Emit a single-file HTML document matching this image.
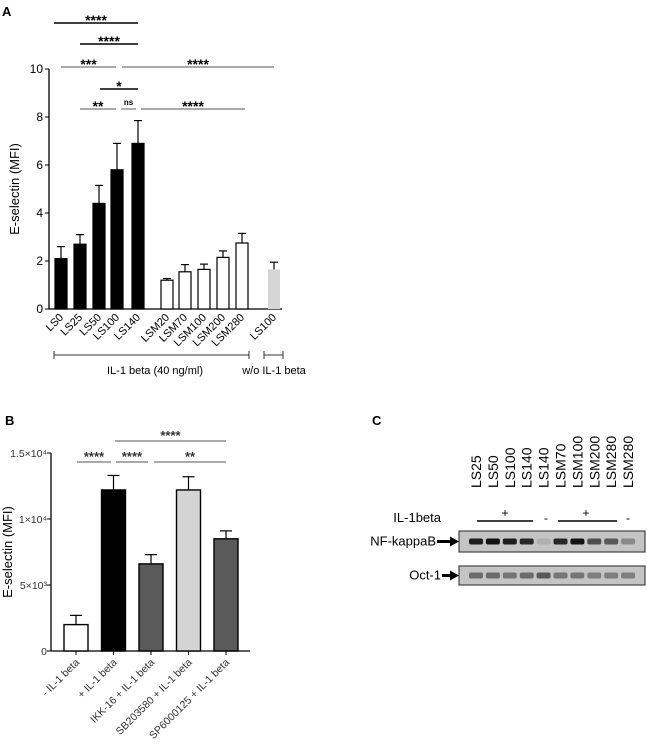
<!DOCTYPE html>
<html><head><meta charset="utf-8"><style>
body{margin:0;background:#fff;}
svg{display:block;font-family:"Liberation Sans",Arial,sans-serif;}
</style></head><body>
<svg id="fig" width="647" height="746" viewBox="0 0 647 746">
<text x="2" y="16" font-size="13" font-weight="bold">A</text>
<text x="5" y="425" font-size="13" font-weight="bold">B</text>
<text x="372" y="425" font-size="13" font-weight="bold">C</text>
<g id="chartA"></g>
<g id="chartB"></g>
<g id="blot"></g>
</svg>
<script>
const NS='http://www.w3.org/2000/svg';
// Panel A data
const catsA=['LS0','LS25','LS50','LS100','LS140','LSM20','LSM70','LSM100','LSM200','LSM280','LS100'];
const valsA=[2.1,2.7,4.4,5.8,6.9,1.2,1.55,1.65,2.15,2.75,1.65];
const errA=[0.5,0.4,0.75,1.1,0.95,0.07,0.3,0.22,0.27,0.4,0.3];
const fillA=['#000','#000','#000','#000','#000','#fff','#fff','#fff','#fff','#fff','#d6d6d6'];
const ticksA=[0,2,4,6,8,10];
// Panel B data
const catsB=['- IL-1 beta','+ IL-1 beta','IKK-16 + IL-1 beta','SB203580 + IL-1 beta','SP6000125 + IL-1 beta'];
const valsB=[2000,12200,6600,12200,8500];
const errB=[700,1100,700,1000,600];
const fillB=['#fff','#000','#5a5a5a','#d4d4d4','#5a5a5a'];
const ticksB=[0,5000,10000,15000];
const tickLabB=['0','5×10³','1×10⁴','1.5×10⁴'];
// Panel C
const lanesC=['LS25','LS50','LS100','LS140','LS140','LSM70','LSM100','LSM200','LSM280','LSM280'];
const nfkbC=[0.85,0.9,0.85,0.8,0.1,0.8,0.9,0.6,0.55,0.3];
const oct1C=[0.45,0.45,0.4,0.45,0.55,0.4,0.4,0.35,0.35,0.35];

function el(parent,tag,attrs,txt){const e=document.createElementNS(NS,tag);for(const k in attrs)e.setAttribute(k,attrs[k]);if(txt!==undefined)e.textContent=txt;parent.appendChild(e);return e;}

// ---- Panel A
const gA=document.getElementById('chartA');
const ax0=49,ay0=309,ayTop=69;
const yA=v=>ay0-(v/10)*(ay0-ayTop);
const xPosA=[61,80,99,117,138,167,185,204,223,242,274];
const xA=i=>xPosA[i];
let a=el(gA,'line',{x1:ax0,y1:ayTop,x2:ax0,y2:ay0,stroke:'#000','stroke-width':1.3});

a=el(gA,'line',{x1:ax0,y1:ay0,x2:282,y2:ay0,stroke:'#000','stroke-width':1.3});

ticksA.forEach(t=>{el(gA,'line',{x1:ax0-4,y1:yA(t),x2:ax0,y2:yA(t),stroke:'#000'});
 const tx=el(gA,'text',{x:ax0-6,y:yA(t)+4,'font-size':12,'text-anchor':'end'},t);
 });
let yl=el(gA,'text',{x:0,y:0,'font-size':13,'text-anchor':'middle',transform:'translate(19,189) rotate(-90)'},'E-selectin (MFI)');

catsA.forEach((c,i)=>{const w=12,x=xA(i);
 el(gA,'line',{x1:x,y1:yA(valsA[i]+errA[i]),x2:x,y2:yA(valsA[i]),stroke:'#000','stroke-width':1.2});
 el(gA,'line',{x1:x-4,y1:yA(valsA[i]+errA[i]),x2:x+4,y2:yA(valsA[i]+errA[i]),stroke:'#000','stroke-width':1.2});
 const b=el(gA,'rect',{x:x-w/2,y:yA(valsA[i]),width:w,height:ay0-yA(valsA[i]),fill:fillA[i],stroke:fillA[i]==='#d6d6d6'?'none':'#000','stroke-width':1.2});
 
 const t=el(gA,'text',{x:0,y:0,'font-size':11,'text-anchor':'end',transform:`translate(${x+3},${ay0+9}) rotate(-45)`},c);
 });
const sigA=[[54,138,23,'****',2],[80,138,44,'****',2],[61,116,67,'***',1],[122,274,67,'****',1],[100,138,89,'*',2],[80,116,109,'**',1],[121,136,109,'ns',1],[141,245,109,'****',1]];
sigA.forEach(s=>{const l=el(gA,'line',{x1:s[0],y1:s[2],x2:s[1],y2:s[2],stroke:s[4]==2?'#000':'#555','stroke-width':s[4]==2?1.4:0.9});
 
 el(gA,'text',{x:(s[0]+s[1])/2,y:s[2]+(s[3]==='ns'?-4:2),'font-size':s[3]==='ns'?8:14,'font-weight':'bold','text-anchor':'middle'},s[3]);});
[[54,249],[264,283]].forEach(r=>{el(gA,'line',{x1:r[0],y1:355,x2:r[1],y2:355,stroke:'#333'});
 el(gA,'line',{x1:r[0],y1:351,x2:r[0],y2:359,stroke:'#333'});el(gA,'line',{x1:r[1],y1:351,x2:r[1],y2:359,stroke:'#333'});});
let g1=el(gA,'text',{x:155,y:374,'font-size':11,'text-anchor':'middle'},'IL-1 beta (40 ng/ml)');

g1=el(gA,'text',{x:274,y:374,'font-size':11,'text-anchor':'middle'},'w/o IL-1 beta');


// ---- Panel B
const gB=document.getElementById('chartB');
const bx0=51,by0=651,byTop=453;
const yB=v=>by0-(v/15000)*(by0-byTop);
const xB=i=>76+i*37.5;
a=el(gB,'line',{x1:bx0,y1:byTop,x2:bx0,y2:by0,stroke:'#000','stroke-width':1.3});

a=el(gB,'line',{x1:bx0,y1:by0,x2:250,y2:by0,stroke:'#000','stroke-width':1.3});

ticksB.forEach((t,k)=>{el(gB,'line',{x1:bx0-4,y1:yB(t),x2:bx0,y2:yB(t),stroke:'#000'});
 const tx=el(gB,'text',{x:bx0-4,y:yB(t)+4,'font-size':10.5,'text-anchor':'end',fill:'#333'},tickLabB[k]);
 });
yl=el(gB,'text',{x:0,y:0,'font-size':13,'text-anchor':'middle',transform:'translate(12,552) rotate(-90)'},'E-selectin (MFI)');

catsB.forEach((c,i)=>{const w=24,x=xB(i);
 el(gB,'line',{x1:x,y1:yB(valsB[i]+errB[i]),x2:x,y2:yB(valsB[i]),stroke:'#000','stroke-width':1.2});
 el(gB,'line',{x1:x-6,y1:yB(valsB[i]+errB[i]),x2:x+6,y2:yB(valsB[i]+errB[i]),stroke:'#000','stroke-width':1.2});
 const b=el(gB,'rect',{x:x-w/2,y:yB(valsB[i]),width:w,height:by0-yB(valsB[i]),fill:fillB[i],stroke:'#000','stroke-width':1.4});
 
 el(gB,'line',{x1:x,y1:by0,x2:x,y2:by0+4,stroke:'#000'});
 const t=el(gB,'text',{x:0,y:0,'font-size':10.5,'text-anchor':'end',fill:'#333',transform:`translate(${x+4},${by0+12}) rotate(-45)`},c);
 });
[[77,111,462,'****'],[116,148,462,'****'],[154,226,462,'**'],[115,226,441,'****']].forEach(s=>{
 const l=el(gB,'line',{x1:s[0],y1:s[2],x2:s[1],y2:s[2],stroke:'#777','stroke-width':1.2});
 
 el(gB,'text',{x:(s[0]+s[1])/2,y:s[2]-1,'font-size':13,'font-weight':'bold','text-anchor':'middle',fill:'#333'},s[3]);});

// ---- Panel C
const gC=document.getElementById('blot');
const laneX=i=>476+i*16.9;
lanesC.forEach((c,i)=>{const t=el(gC,'text',{x:0,y:0,'font-size':14,transform:`translate(${laneX(i)+5},488) rotate(-90)`},c);
 });
let t=el(gC,'text',{x:441,y:522,'font-size':13,'text-anchor':'end'},'IL-1beta');
[[477,533,505,'+'],[558,617,586,'+']].forEach(s=>{el(gC,'line',{x1:s[0],y1:521,x2:s[1],y2:521,stroke:'#000','stroke-width':1.5});
 el(gC,'text',{x:s[2],y:517,'font-size':12,'text-anchor':'middle'},s[3]);});
el(gC,'text',{x:546,y:522,'font-size':12,'text-anchor':'middle'},'-');
el(gC,'text',{x:628,y:522,'font-size':12,'text-anchor':'middle'},'-');
function strip(y,h,vals,name,label,lx){
 const r=el(gC,'rect',{x:459,y:y,width:186,height:h,fill:'#c4c4c4',stroke:'#444','stroke-width':1.2});
 
 vals.forEach((v,i)=>{el(gC,'rect',{x:laneX(i)-7,y:y+h/2-3,width:14,height:6,rx:2,fill:'#000','fill-opacity':v});});
 const tt=el(gC,'text',{x:lx,y:y+h/2+4,'font-size':13,'text-anchor':'end'},label);
 
 el(gC,'line',{x1:lx+1,y1:y+h/2,x2:452,y2:y+h/2,stroke:'#000','stroke-width':3});
 el(gC,'polygon',{points:`450,${y+h/2-5} 459,${y+h/2} 450,${y+h/2+5}`,fill:'#000'});
}
strip(531,21,nfkbC,'nfkappab-blot','NF-kappaB',436);
strip(566,19,oct1C,'oct1-blot','Oct-1',441);
</script>
</body></html>
